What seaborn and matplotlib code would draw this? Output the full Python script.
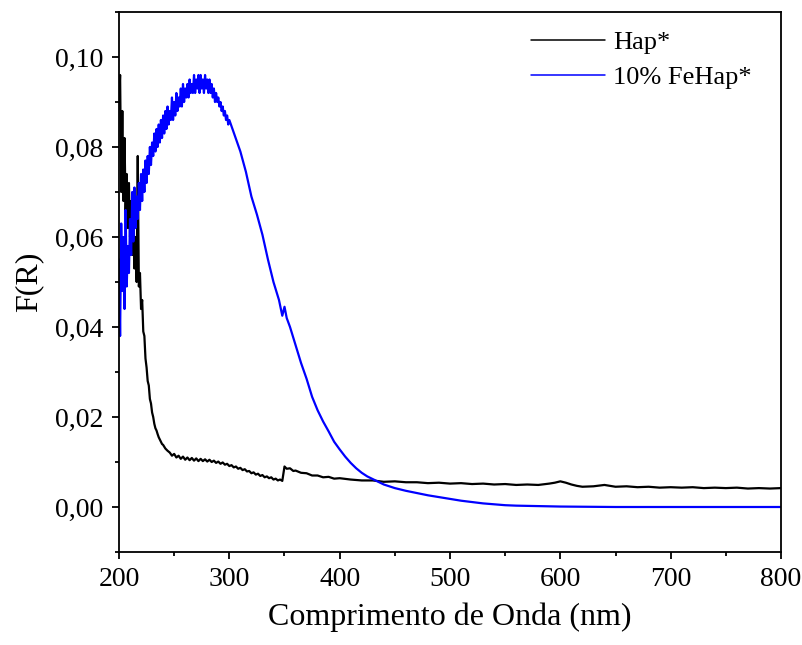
import matplotlib
matplotlib.use("Agg")
import matplotlib.pyplot as plt
from matplotlib.ticker import MultipleLocator, FuncFormatter
from matplotlib.lines import Line2D
import seaborn as sns
import pandas as pd

# ---- data ----
hap_x = (list(range(200, 241)) + list(range(242, 350, 2)) +
         [350, 352, 355, 358, 360, 365, 370, 375, 380, 385, 390, 395, 400,
          410, 420, 430, 440, 450, 460, 470, 480, 490, 500, 510, 520, 530,
          540, 550, 560, 570, 580, 590, 595, 600, 605, 610, 615, 620, 630,
          640, 645, 650, 660, 670, 680, 690, 700, 710, 720, 730, 740, 750,
          760, 770, 780, 790, 800])
hap_y = ([0.090, 0.096, 0.070, 0.088, 0.068, 0.082, 0.066, 0.074, 0.062, 0.072,
          0.060, 0.068, 0.056, 0.064, 0.053, 0.060, 0.050, 0.078, 0.049, 0.052,
          0.044, 0.046, 0.039, 0.038, 0.033, 0.031, 0.028, 0.027, 0.024, 0.023,
          0.021, 0.020, 0.0185, 0.0175, 0.017, 0.0162, 0.0155, 0.015, 0.0145,
          0.014, 0.0138] +
         [0.0130, 0.0125, 0.0121, 0.0114, 0.0118, 0.0110, 0.0114, 0.0107,
          0.0112, 0.0105, 0.0110, 0.0104, 0.0109, 0.0103, 0.0108, 0.0102,
          0.0107, 0.0102, 0.0106, 0.0101, 0.0105, 0.0100, 0.0103, 0.0098,
          0.0101, 0.0096, 0.0099, 0.0094, 0.0096, 0.0091, 0.0093, 0.0088,
          0.0090, 0.0085, 0.0087, 0.0082, 0.0084, 0.0079, 0.0080, 0.0075,
          0.0077, 0.0072, 0.0074, 0.0069, 0.0071, 0.0066, 0.0068, 0.0064,
          0.0066, 0.0061, 0.0063, 0.0059, 0.0061, 0.0058] +
         [0.0090, 0.0085, 0.0086, 0.0080, 0.0081, 0.0076, 0.0075, 0.0070,
          0.0070, 0.0066, 0.0067, 0.0063, 0.0064, 0.0061, 0.0059, 0.0059,
          0.0056, 0.0057, 0.0055, 0.0055, 0.0053, 0.0054, 0.0052, 0.0053,
          0.0051, 0.0052, 0.0050, 0.0051, 0.0049, 0.0050, 0.0049, 0.0052,
          0.0054, 0.0057, 0.0054, 0.0050, 0.0047, 0.0045, 0.0046, 0.0049,
          0.0047, 0.0045, 0.0046, 0.0044, 0.0045, 0.0043, 0.0044, 0.0043,
          0.0044, 0.0042, 0.0043, 0.0042, 0.0043, 0.0041, 0.0042, 0.0041,
          0.0042])

fe_x = (list(range(200, 301)) +
        [305, 310, 315, 320, 325, 330, 335, 340, 345, 348, 350, 352, 355,
         360, 365, 370, 375, 380, 385, 390, 395, 400, 405, 410, 415, 420,
         425, 430, 435, 440, 450, 460, 470, 480, 490, 500, 510, 520, 530,
         540, 550, 560, 580, 600, 650, 700, 750, 800])
fe_y = ([0.055, 0.038, 0.063, 0.048, 0.060, 0.044, 0.066, 0.049, 0.058, 0.052,
         0.064, 0.056, 0.070, 0.059, 0.071, 0.062, 0.069, 0.064, 0.072, 0.066,
         0.074, 0.068, 0.075, 0.070, 0.077, 0.072, 0.078, 0.074, 0.080, 0.076,
         0.081] +
        [0.078, 0.083, 0.079, 0.084, 0.080, 0.085, 0.081, 0.086, 0.082, 0.087,
         0.083, 0.088, 0.084, 0.089, 0.085, 0.088, 0.086, 0.091, 0.086, 0.090,
         0.087, 0.092, 0.088, 0.091, 0.089, 0.093, 0.089, 0.094, 0.090, 0.093,
         0.091, 0.094, 0.091, 0.095, 0.092, 0.094, 0.092, 0.096, 0.092, 0.095,
         0.093, 0.096, 0.092, 0.096, 0.093, 0.095, 0.092, 0.096, 0.093, 0.095,
         0.092, 0.095, 0.092, 0.094, 0.091, 0.093, 0.090, 0.092, 0.090, 0.091,
         0.089, 0.090, 0.088, 0.089, 0.087, 0.088, 0.086, 0.087, 0.085, 0.086] +
        [0.0825, 0.079, 0.0745, 0.069, 0.065, 0.0605, 0.055, 0.050, 0.046,
         0.0425, 0.0445, 0.042, 0.040, 0.036, 0.032, 0.0285, 0.0245, 0.0215,
         0.019, 0.0168, 0.0145, 0.0128, 0.0112, 0.0098, 0.0086, 0.0076,
         0.0068, 0.0062, 0.0056, 0.0050, 0.0042, 0.0036, 0.0031, 0.0026,
         0.0022, 0.0018, 0.0014, 0.0011, 0.0008, 0.0006, 0.0004, 0.0003,
         0.0002, 0.0001, 0.0, 0.0, 0.0, 0.0])

labels = ["Hap*", "10% FeHap*"]
colors = ["#000000", "#0000ff"]
x_ticks = [200, 300, 400, 500, 600, 700, 800]
y_ticks = [0.00, 0.02, 0.04, 0.06, 0.08, 0.10]

df = pd.concat([
    pd.DataFrame({"x": hap_x, "y": hap_y, "s": labels[0]}),
    pd.DataFrame({"x": fe_x, "y": fe_y, "s": labels[1]}),
])

sns.set_theme(style="ticks")
plt.rcParams["font.family"] = ["Liberation Serif", "DejaVu Serif"]
plt.rcParams["text.color"] = "black"
plt.rcParams["axes.labelcolor"] = "black"
plt.rcParams["xtick.color"] = "black"
plt.rcParams["ytick.color"] = "black"

fig = plt.figure(figsize=(8.03, 6.45), dpi=100)
ax = fig.add_axes([119 / 803, 1 - 552 / 645, (781 - 119) / 803, (552 - 12) / 645])

sns.lineplot(data=df, x="x", y="y", hue="s", palette=colors,
             estimator=None, sort=False, linewidth=1.6, ax=ax, legend=False)

ax.set_xlim(200, 800)
ax.set_ylim(-0.01, 0.11)
ax.set_xticks(x_ticks)
ax.set_yticks(y_ticks)
ax.xaxis.set_minor_locator(MultipleLocator(50))
ax.yaxis.set_minor_locator(MultipleLocator(0.01))
ax.yaxis.set_major_formatter(FuncFormatter(lambda v, p: f"{v:.2f}".replace(".", ",")))
ax.xaxis.set_major_formatter(FuncFormatter(lambda v, p: f"{int(round(v))}"))

ax.tick_params(which="major", direction="out", length=5, width=1.3,
               labelsize=20, colors="black", labelcolor="black",
               top=False, right=False, pad=6)
ax.tick_params(which="minor", direction="out", length=3, width=1.3,
               colors="black", top=False, right=False)
for sp in ax.spines.values():
    sp.set_linewidth(1.3)
    sp.set_color("black")
    sp.set_visible(True)

ax.set_xlabel("Comprimento de Onda (nm)", fontsize=23, labelpad=7, color="black")
ax.set_ylabel("F(R)", fontsize=23, labelpad=9, color="black")

handles = [Line2D([0], [0], color=c, lw=1.1) for c in colors]
leg = ax.legend(handles, labels, loc="upper right", frameon=False, fontsize=19,
                handlelength=2.8, handletextpad=0.3, labelspacing=0.45,
                bbox_to_anchor=(0.98, 0.995), borderaxespad=0.2)
for t in leg.get_texts():
    t.set_color("black")

fig.savefig("out.png", dpi=100)
